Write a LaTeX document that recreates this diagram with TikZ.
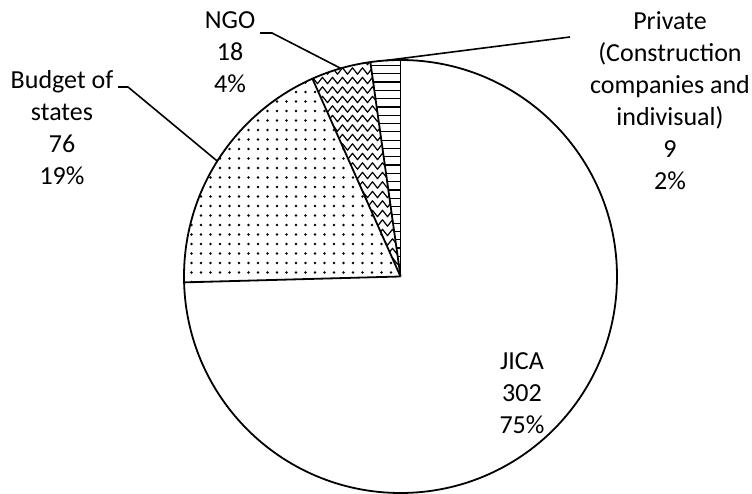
\documentclass[tikz,border=0pt]{standalone}
\usepackage{fontspec}
\setmainfont{Carlito}
\usetikzlibrary{decorations.pathmorphing,calc}
\begin{document}
\begin{tikzpicture}[x=1pt,y=1pt, line join=round,
  slice/.style={draw=black, line width=1.8pt},
  leader/.style={draw=black, line width=1.6pt},
  hatch/.style={line width=1.2pt},
  lbl/.style={align=center, font=\fontsize{26}{32}\selectfont, inner sep=0pt}]
\useasboundingbox (0,0) rectangle (752,494);
\def\cx{400.5}\def\cy{217.5}\def\R{216.5}
\coordinate (O) at (\cx,\cy);
% Budget of states: dots
\begin{scope}
\clip (O) -- ++(114:\R) arc[start angle=114, end angle=181.56, radius=\R] -- cycle;
\foreach \i in {0,...,24} \foreach \j in {0,...,25} \fill (182+\i*9.5, 212+\j*9.5) circle (1.4);
\end{scope}
% NGO: zigzag
\begin{scope}
\clip (O) -- ++(98:\R) arc[start angle=98, end angle=114, radius=\R] -- cycle;
\foreach \j in {0,...,24} \draw[hatch, decorate, decoration={zigzag, segment length=10pt, amplitude=3.2pt}] (290, 214+\j*9.5) -- (412, 214+\j*9.5);
\end{scope}
% Private: horizontal lines
\begin{scope}
\clip (O) -- ++(90:\R) arc[start angle=90, end angle=98, radius=\R] -- cycle;
\foreach \j in {0,...,28} \draw[hatch] (360, 221+\j*8.3) -- (410, 221+\j*8.3);
\end{scope}
% outlines
\draw[slice] (O) circle (\R);
\draw[slice] (O) -- ++(90:\R);
\draw[slice] (O) -- ++(98:\R);
\draw[slice] (O) -- ++(114:\R);
\draw[slice] (O) -- ++(181.56:\R);
% labels
\node[lbl] (ngo) at (230,442) {NGO\\18\\4\%};
\node[lbl] (budget) at (62,366) {Budget of\\states\\76\\19\%};
\node[lbl] (private) at (670,393) {Private\\(Construction\\companies and\\indivisual)\\9\\2\%};
\node[lbl] (jica) at (522,101) {JICA\\302\\75\%};
% leaders
\coordinate (ngoA) at (260,461);
\coordinate (ngoB) at (272,461);
\coordinate (ngoP) at ($(O)+(106:\R)$);
\coordinate (budA) at (118,407);
\coordinate (budB) at (128,407);
\coordinate (budP) at ($(O)+(147.8:\R)$);
\coordinate (priA) at (570,457);
\coordinate (priP) at ($(O)+(94:\R)$);
\draw[leader] (ngoA) -- (ngoB) -- (ngoP);
\draw[leader] (budA) -- (budB) -- (budP);
\draw[leader] (priA) -- (priP);
\end{tikzpicture}
\end{document}
